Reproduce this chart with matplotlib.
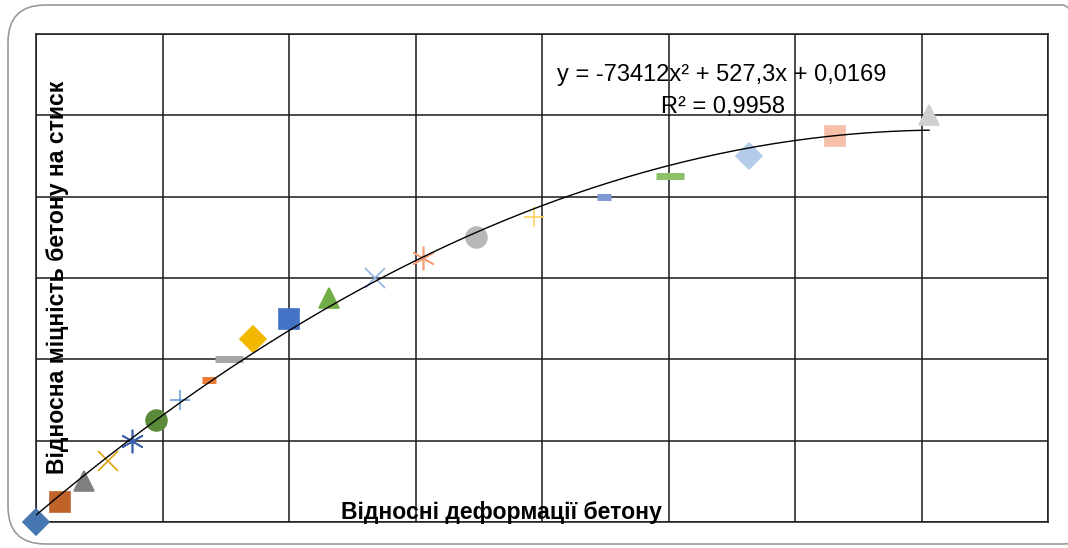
import matplotlib.pyplot as plt
from matplotlib.patches import FancyBboxPatch
import numpy as np

# values
strain = [0.0, 0.000095, 0.00019, 0.000285, 0.00038, 0.000474, 0.00057,
          0.000684, 0.000763, 0.000858, 0.001, 0.00116, 0.00134, 0.00153,
          0.00174, 0.00197, 0.002245, 0.002506, 0.00282, 0.00316, 0.00353]
strength = [0.0, 0.05, 0.10, 0.15, 0.20, 0.25, 0.30, 0.35, 0.40, 0.45, 0.50,
            0.55, 0.60, 0.65, 0.70, 0.75, 0.80, 0.85, 0.90, 0.95, 1.00]
markers = ['D', 's', '^', 'x', '*', 'o', '+', '_', '_', 'D', 's',
           '^', 'x', '*', 'o', '+', '_', '_', 'D', 's', '^']
colors = ['#4677B0', '#C0632B', '#808080', '#D9A510', '#3A60AE', '#5A8A3A',
          '#6A9FD8', '#E97B35', '#A5A5A5', '#F2B700', '#4472C4', '#70AD47',
          '#8FB4E3', '#F4A07A', '#B7B7B7', '#FFD35F', '#7E99D4', '#8CC168',
          '#B4CCEA', '#F5BFA8', '#D0D0D0']
trend = [-73412, 527.3, 0.0169]
eq_text = 'y = -73412x² + 527,3x + 0,0169\nR² = 0,9958'

W, H = 1068, 548
fig = plt.figure(figsize=(W / 100, H / 100), dpi=100)

def fx(px):
    return px / W

def fy(py):
    return 1 - py / H

# rounded frame round the whole chart
frame = FancyBboxPatch((fx(8), fy(544)), fx(1100) - fx(8), fy(5) - fy(544),
                       boxstyle='round,pad=0,rounding_size=0.035',
                       transform=fig.transFigure, fill=False,
                       edgecolor='#9a9a9a', linewidth=1.2, mutation_aspect=W / H)
fig.patches.append(frame)

ax = fig.add_axes([fx(36), fy(522), fx(1048) - fx(36), fy(34) - fy(522)])
ax.set_xlim(0, 0.004)
ax.set_ylim(0, 1.2)
ax.set_xticks(np.arange(0, 0.0041, 0.0005))
ax.set_yticks(np.arange(0, 1.21, 0.2))
ax.tick_params(length=0, labelbottom=False, labelleft=False)
ax.grid(True, color='#1a1a1a', linewidth=1.1)
ax.set_axisbelow(True)
for sp in ax.spines.values():
    sp.set_color('#1a1a1a')
    sp.set_linewidth(1.1)

sizes = {'D': 13, 's': 14, '^': 14, 'x': 14, '*': 17, 'o': 15, '+': 14, '_': 10}
for i, (x, y, m, c) in enumerate(zip(strain, strength, markers, colors)):
    ms = sizes[m]
    mew = 1.2
    if m == '_':
        ms = 20 if i in (8, 17) else 10
        mew = 5
    if m == '*':
        ax.plot(x, y, marker=(6, 2, 0), markersize=ms, color=c, mew=1.2,
                linestyle='none', clip_on=False, zorder=3)
        continue
    ax.plot(x, y, marker=m, markersize=ms, color=c, mew=mew,
            linestyle='none', clip_on=False, zorder=3)

xs = np.linspace(0, max(strain), 200)
ax.plot(xs, np.polyval(trend, xs), color='black', linewidth=1.0, zorder=4)

fig.text(fx(722), fy(75), eq_text.split('\n')[0], ha='center', va='center',
         fontsize=17, family='Liberation Sans')
fig.text(fx(723), fy(107), eq_text.split('\n')[1], ha='center', va='center',
         fontsize=17, family='Liberation Sans')

fig.text(fx(501), fy(512), 'Відносні деформації бетону', ha='center',
         va='center', fontsize=16.6, fontweight='bold', family='Liberation Sans')
fig.text(fx(58), fy(277), 'Відносна міцність бетону на стиск', ha='center',
         va='center', rotation=90, fontsize=16.6, fontweight='bold',
         family='Liberation Sans')

fig.savefig('out.png', dpi=100)
